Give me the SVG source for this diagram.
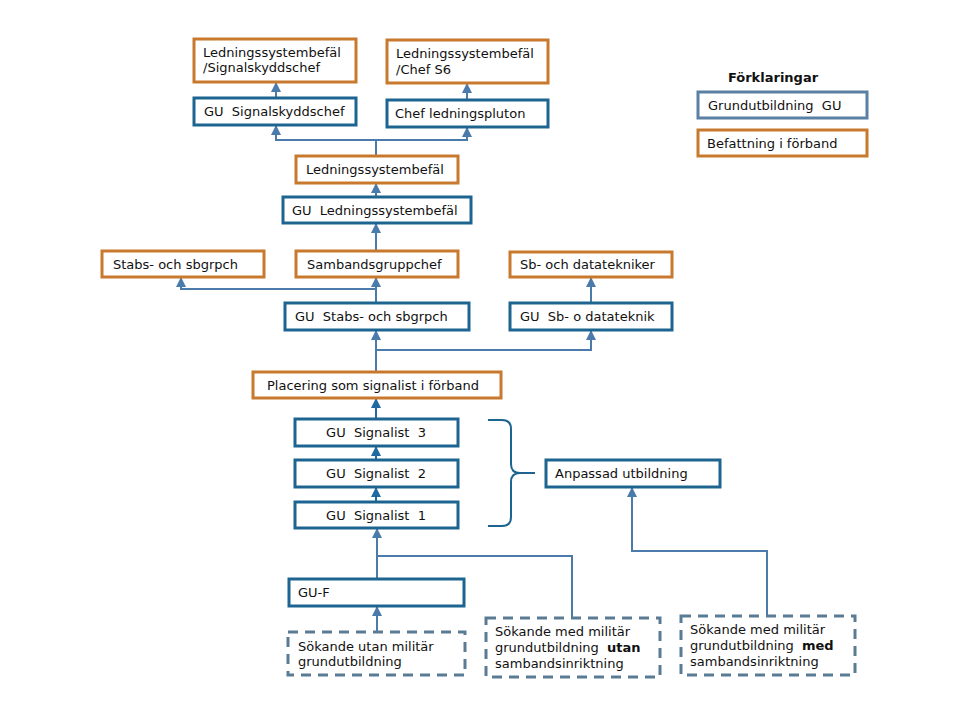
<svg xmlns="http://www.w3.org/2000/svg" width="960" height="720" viewBox="0 0 960 720">
<defs>
<style>
text{font-family:"DejaVu Sans",Verdana,sans-serif;font-size:13px;fill:#111;white-space:pre}
.b{fill:#fff;stroke:#1d6590;stroke-width:3}
.o{fill:#fff;stroke:#c8792d;stroke-width:3}
.d{fill:#fff;stroke:#5a7b94;stroke-width:3;stroke-dasharray:10 7}
.lb{fill:#fff;stroke:#5b80a3;stroke-width:3}
.c{fill:none;stroke:#4a7bab;stroke-width:2}
.cd{fill:none;stroke:#1f6aa0;stroke-width:2}
.c.a{marker-end:url(#ah)}
.cd.a{marker-end:url(#ahd)}
.m{text-anchor:middle}
</style>
<marker id="ah" viewBox="0 0 10 10" refX="9" refY="5" markerWidth="11" markerHeight="10" markerUnits="userSpaceOnUse" orient="auto"><path d="M0,0 L10,5 L0,10 z" fill="#4a7bab"/></marker>
<marker id="ahd" viewBox="0 0 10 10" refX="9" refY="5" markerWidth="11" markerHeight="10" markerUnits="userSpaceOnUse" orient="auto"><path d="M0,0 L10,5 L0,10 z" fill="#1f6aa0"/></marker>
</defs>
<rect width="960" height="720" fill="#fff"/>

<g id="connectors">
<path class="c a" d="M276,98 V83"/>
<path class="c a" d="M467,100 V84"/>
<path class="c a" d="M376,156 V140 H276 V126"/>
<path class="c a" d="M376,140 H467 V128"/>
<path class="c a" d="M376,197 V184"/>
<path class="c a" d="M376,251 V224"/>
<path class="c a" d="M376,303 V278"/>
<path class="c a" d="M376,289 H181 V278"/>
<path class="c a" d="M591,303 V278"/>
<path class="c a" d="M376,372 V331"/>
<path class="c a" d="M376,350 H591 V331"/>
<path class="cd a" d="M376,419 V399"/>
<path class="cd a" d="M376,460 V447"/>
<path class="cd a" d="M376,502 V488"/>
<path class="c a" d="M377,579 V529"/>
<path class="c" d="M572,618 V556 H377"/>
<path class="c a" d="M377,632 V607"/>
<path class="c a" d="M767,616 V551 H632 V488"/>
<path fill="none" stroke="#1d6590" stroke-width="2" d="M488,420 H502 Q511,420 511,429 V464 Q511,473 520,473 H535 M520,473 Q511,473 511,482 V517 Q511,526 502,526 H488"/>
</g>

<g id="n_lsb_signal"><rect class="o" x="194" y="39" width="162" height="43"/><text x="203" y="57">Ledningssystembefäl</text><text x="203" y="72">/Signalskyddschef</text></g>
<g id="n_lsb_s6"><rect class="o" x="387" y="40" width="161" height="43"/><text x="396" y="58">Ledningssystembefäl</text><text x="396" y="74">/Chef S6</text></g>
<g id="n_gu_signalskydd"><rect class="b" x="194" y="98" width="162" height="27"/><text x="204" y="116">GU  Signalskyddschef</text></g>
<g id="n_chef_ledpl"><rect class="b" x="387" y="100" width="161" height="27"/><text x="395" y="118">Chef ledningspluton</text></g>
<g id="n_lsb"><rect class="o" x="296" y="156" width="162" height="27"/><text x="306" y="174">Ledningssystembefäl</text></g>
<g id="n_gu_lsb"><rect class="b" x="283" y="197" width="188" height="26"/><text x="292" y="215">GU  Ledningssystembefäl</text></g>
<g id="n_stabs"><rect class="o" x="102" y="251" width="162" height="26"/><text x="113" y="269">Stabs- och sbgrpch</text></g>
<g id="n_sambgrch"><rect class="o" x="296" y="251" width="162" height="26"/><text x="307" y="269">Sambandsgruppchef</text></g>
<g id="n_sbdata"><rect class="o" x="510" y="252" width="162" height="25"/><text x="520" y="269">Sb- och datatekniker</text></g>
<g id="n_gu_stabs"><rect class="b" x="285" y="303" width="184" height="27"/><text x="295" y="321">GU  Stabs- och sbgrpch</text></g>
<g id="n_gu_sbdata"><rect class="b" x="510" y="303" width="162" height="27"/><text x="520" y="321">GU  Sb- o datateknik</text></g>
<g id="n_placering"><rect class="o" x="253" y="372" width="248" height="26"/><text x="267" y="390">Placering som signalist i förband</text></g>
<g id="n_sig3"><rect class="b" x="295" y="419" width="163" height="27"/><text class="m" x="376" y="437">GU  Signalist  3</text></g>
<g id="n_sig2"><rect class="b" x="295" y="460" width="163" height="27"/><text class="m" x="376" y="478">GU  Signalist  2</text></g>
<g id="n_sig1"><rect class="b" x="295" y="502" width="163" height="26"/><text class="m" x="376" y="520">GU  Signalist  1</text></g>
<g id="n_anpassad"><rect class="b" x="546" y="460" width="174" height="27"/><text x="555" y="478">Anpassad utbildning</text></g>
<g id="n_guf"><rect class="b" x="289" y="579" width="175" height="27"/><text x="298" y="597">GU-F</text></g>
<g id="n_sok_utan"><rect class="d" x="288" y="632" width="177" height="43"/><text x="298" y="651">Sökande utan militär</text><text x="298" y="666">grundutbildning</text></g>
<g id="n_sok_med_utan"><rect class="d" x="486" y="618" width="174" height="59"/><text x="495" y="636">Sökande med militär</text><text x="495" y="652">grundutbildning  <tspan font-weight="bold">utan</tspan></text><text x="495" y="668">sambandsinriktning</text></g>
<g id="n_sok_med_med"><rect class="d" x="681" y="616" width="174" height="59"/><text x="690" y="634">Sökande med militär</text><text x="690" y="650">grundutbildning  <tspan font-weight="bold">med</tspan></text><text x="690" y="666">sambandsinriktning</text></g>

<g id="legend">
<text x="773" y="82" class="m" font-weight="bold">Förklaringar</text>
<rect class="lb" x="698" y="92" width="169" height="26"/><text x="708" y="110">Grundutbildning  GU</text>
<rect class="o" x="698" y="130" width="169" height="26"/><text x="707" y="148">Befattning i förband</text>
</g>
</svg>
